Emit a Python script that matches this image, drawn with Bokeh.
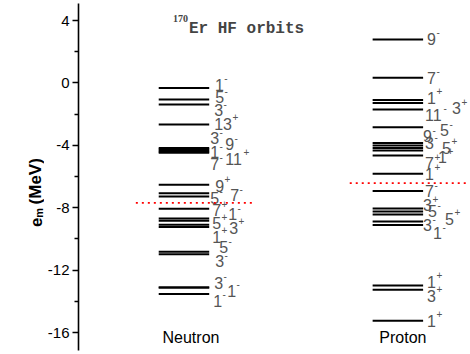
import math
from bokeh.plotting import figure
from bokeh.layouts import row
from bokeh.models import ColumnDataSource, Label, FixedTicker, Range1d
from bokeh.embed import file_html
from bokeh.resources import INLINE
from bokeh.core.properties import value

# ---------------- data ----------------
species = ["Neutron", "Proton"]

neutron_energy = [-0.33, -1.06, -1.38, -2.67, -4.17, -4.26, -4.33, -4.41, -4.48,
                  -6.53, -7.07, -7.28, -8.07, -8.69, -8.84, -9.10, -9.24,
                  -10.83, -10.99, -13.12, -13.12, -13.53]
neutron_j = ["1", "5", "3", "13", "3", "9", "1", "7", "11",
             "9", "5", "7", "7", "1", "5", "3", "1",
             "5", "3", "3", "1", "1"]
neutron_parity = ["-", "-", "-", "+", "-", "-", "-", "-", "+",
                  "+", "-", "-", "+", "-", "+", "+", "+",
                  "-", "-", "-", "-", "-"]

proton_energy = [2.78, 0.33, -1.10, -1.29, -1.71, -2.84, -3.85, -4.01, -4.17,
                 -4.33, -4.65, -5.83, -6.93, -8.05, -8.24, -8.44, -8.88, -9.11,
                 -12.99, -13.26, -15.24]
proton_j = ["9", "7", "1", "3", "11", "5", "9", "3", "5",
            "1", "7", "1", "7", "3", "5", "5", "3", "1",
            "1", "3", "1"]
proton_parity = ["-", "-", "+", "+", "-", "-", "-", "-", "+",
                 "+", "+", "+", "-", "+", "-", "+", "-", "-",
                 "+", "+", "+"]

fermi_energy = [-7.69, -6.43]

y_ticks = [4, 0, -4, -8, -12, -16]
y_minor_ticks = [2, -2, -6, -10, -14]

axis_title = ["e", "m", "(MeV)"]

# ---------------- layout (label offsets in px) ----------------
neutron_dx = [5.7, 6, 5, 5, 1, 16, 1, 1, 16, 6, 1, 21, 3, 19, 3, 20, 3, 10, 6, 5, 18, 4]
neutron_dy = [-3.5, -2, 6, -1, -9.5, -5, 2, 12, 6, 1, 4.5, -1, 1.5, -4, 2.5, 3, 9.5, -4.5, 7, -5, 3, 7]
proton_dx = [4, 4, 4, 29, 2, 17, 0, 2, 19, 15, 2, 2, 2, 0, 5, 22, 0, 10, 4, 4, 4]
proton_dy = [-1, 0, -2.5, 5, 5, 3, -6.5, -2, 0, 7, 8, 0, 0, -3, 0, 4, 4, 8, -4, 6, 0]

# geometry (page pixels; canvas starts at page 0,0)
H = 354
LW = 44                 # width of the axis-title strip
W = 470 - LW            # main figure width
FRAME_L = 76            # page x of the y axis line
FRAME_T, FRAME_B = 3, 350
PX_X = 215.0            # px per category unit
PX_Y = 15.6             # px per MeV
X0 = 1 - (182 - FRAME_L) / PX_X
X1 = 2 + (470 - 397) / PX_X
Y1 = 4 + (20 - FRAME_T) / PX_Y
Y0 = Y1 - (FRAME_B - FRAME_T) / PX_Y
HALF = 0.118


def px2x(page_x):
    return X0 + (page_x - FRAME_L) / PX_X


def px2y(page_y):
    return Y1 - (page_y - FRAME_T) / PX_Y


p = figure(width=W, height=H, x_range=Range1d(X0, X1), y_range=Range1d(Y0, Y1),
           output_backend="svg", toolbar_location=None, x_axis_location=None,
           min_border_left=FRAME_L - LW, min_border_right=0,
           min_border_top=FRAME_T, min_border_bottom=H - FRAME_B)
p.outline_line_color = None
p.grid.grid_line_color = None
p.background_fill_color = "white"

ax = p.yaxis[0]
ax.ticker = FixedTicker(ticks=y_ticks, minor_ticks=y_minor_ticks)
ax.major_label_text_font = "Liberation Sans"
ax.major_label_text_font_size = "15px"
ax.major_label_text_color = "black"
ax.major_label_standoff = 3
ax.major_tick_out = 6
ax.major_tick_in = 0
ax.minor_tick_out = 4
ax.minor_tick_in = 0
ax.axis_line_width = 1.6
ax.major_tick_line_width = 1.6
ax.minor_tick_line_width = 1.6
ax.major_label_overrides = {t: str(t) for t in y_ticks}

LABEL_FS = 16
DIGIT_W = 0.556 * LABEL_FS


def add_levels(center, energies, js, parities, dxs, dys):
    n = len(energies)
    src = ColumnDataSource(dict(
        x0=[center - HALF] * n, x1=[center + HALF] * n, y=energies,
        j=js, par=parities, dx=dxs, dy=dys,
        sdx=[d + len(j) * DIGIT_W + 0.5 for d, j in zip(dxs, js)],
        sdy=[d - 6.5 for d in dys],
    ))
    p.segment(x0="x0", y0="y", x1="x1", y1="y", source=src,
              line_color="black", line_width=2)
    p.text(x="x1", y="y", text="j", x_offset="dx", y_offset="dy", source=src,
           text_font=value("Liberation Sans"), text_font_size=f"{LABEL_FS}px",
           text_color="#555555", text_baseline="middle", text_align="left")
    p.text(x="x1", y="y", text="par", x_offset="sdx", y_offset="sdy", source=src,
           text_font=value("Liberation Sans"), text_font_size="10px",
           text_color="#555555", text_baseline="middle", text_align="left")


add_levels(1, neutron_energy, neutron_j, neutron_parity, neutron_dx, neutron_dy)
add_levels(2, proton_energy, proton_j, proton_parity, proton_dx, proton_dy)

# Fermi levels
p.segment(x0=[c - 0.225 for c in (1, 2)], y0=fermi_energy,
          x1=[c + 0.32 for c in (1, 2)], y1=fermi_energy,
          line_color="#ff0000", line_width=1.8, line_dash="2 4")

# species names
p.text(x=[1, 2], y=[Y0, Y0], text=species, x_offset=[7, 5], y_offset=[-13, -13],
       text_font=value("Liberation Sans"), text_font_size="16px",
       text_color="black", text_align="center", text_baseline="middle")

# title
p.add_layout(Label(x=px2x(171), y=px2y(18), text="170", text_font="Liberation Serif",
                   text_font_style="bold", text_font_size="10px",
                   text_baseline="alphabetic", text_align="left"))
p.add_layout(Label(x=px2x(187), y=px2y(28), text="Er HF orbits", text_font="Liberation Mono",
                   text_font_style="bold", text_font_size="16px",
                   text_baseline="alphabetic", text_align="left"))

# ---------------- axis title strip (left) ----------------
q = figure(width=LW, height=H, x_range=Range1d(0, LW), y_range=Range1d(0, H),
           output_backend="svg", toolbar_location=None,
           x_axis_location=None, y_axis_location=None,
           min_border_left=0, min_border_right=0, min_border_top=0, min_border_bottom=0)
q.outline_line_color = None
q.grid.grid_line_color = None
rot = math.pi / 2
q.text(x=[35], y=[H - 228], text=[axis_title[0]], angle=rot,
       text_font=value("Liberation Sans"), text_font_style="bold", text_font_size="17px",
       text_color="black", text_baseline="alphabetic", text_align="left")
q.text(x=[38.5], y=[H - 218.5], text=[axis_title[1]], angle=rot,
       text_font=value("Liberation Sans"), text_font_style="bold", text_font_size="11px",
       text_color="black", text_baseline="alphabetic", text_align="left")
q.text(x=[35], y=[H - 205], text=[axis_title[2]], angle=rot,
       text_font=value("Liberation Sans"), text_font_style="bold", text_font_size="17px",
       text_color="black", text_baseline="alphabetic", text_align="left")

layout = row(q, p, spacing=0)
open("out.html", "w").write(file_html(layout, INLINE))
